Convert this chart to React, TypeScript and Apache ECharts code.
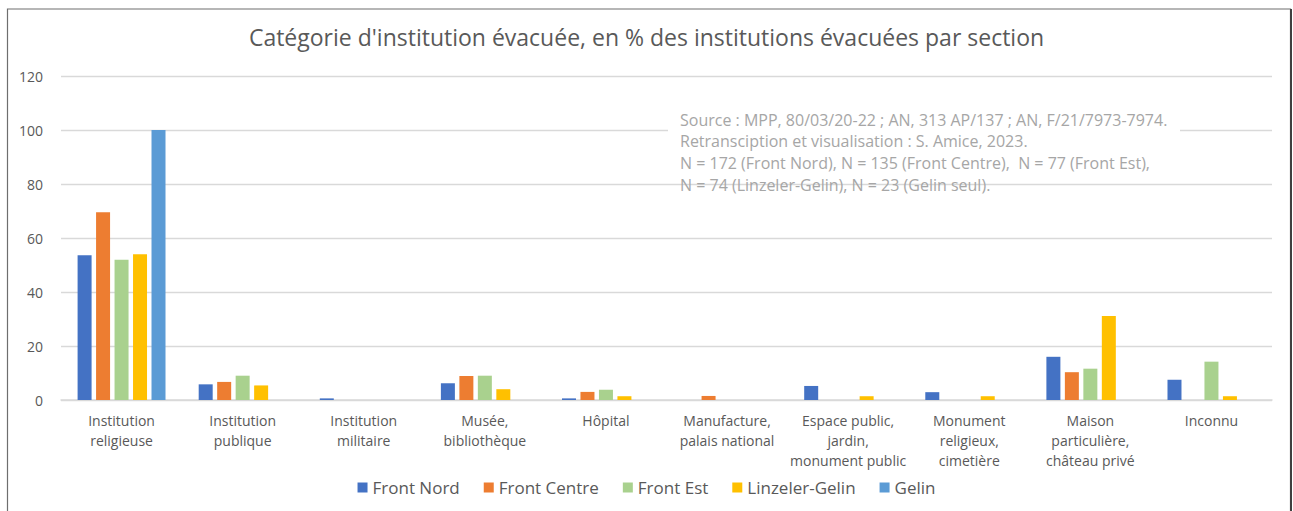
import React, { useEffect, useRef } from "react";
import * as echarts from "echarts";

const categories = [
  "Institution\nreligieuse",
  "Institution\npublique",
  "Institution\nmilitaire",
  "Musée,\nbibliothèque",
  "Hôpital",
  "Manufacture,\npalais national",
  "Espace public,\njardin,\nmonument public",
  "Monument\nreligieux,\ncimetière",
  "Maison\nparticulière,\nchâteau privé",
  "Inconnu",
];

const frontNord = [53.6, 5.8, 0.6, 6.2, 0.6, 0, 5.2, 2.9, 16.0, 7.5];
const frontCentre = [69.5, 6.7, 0, 8.9, 3.0, 1.5, 0, 0, 10.3, 0];
const frontEst = [51.9, 9.0, 0, 9.0, 3.8, 0, 0, 0, 11.6, 14.2];
const linzelerGelin = [54.0, 5.4, 0, 4.0, 1.4, 0, 1.4, 1.4, 31.1, 1.4];
const gelin = [100, 0, 0, 0, 0, 0, 0, 0, 0, 0];

const seriesNames = ["Front Nord", "Front Centre", "Front Est", "Linzeler-Gelin", "Gelin"];
const seriesColors = ["#4472C4", "#ED7D31", "#A9D18E", "#FFC000", "#5B9BD5"];
const seriesData = [frontNord, frontCentre, frontEst, linzelerGelin, gelin];

const yTicks = { min: 0, max: 120, interval: 20 };

const titleText = "Catégorie d'institution évacuée, en % des institutions évacuées par section";
const noteLines = [
  "Source : MPP, 80/03/20-22 ; AN, 313 AP/137 ; AN, F/21/7973-7974.",
  "Retransciption et visualisation : S. Amice, 2023.",
  "N = 172 (Front Nord), N = 135 (Front Centre),  N = 77 (Front Est),",
  "N = 74 (Linzeler-Gelin), N = 23 (Gelin seul).",
];

const FONT = "'Open Sans', Lato, sans-serif";

export default function App() {
  const ref = useRef<HTMLDivElement>(null);
  useEffect(() => {
    if (!ref.current) return;
    const chart = echarts.init(ref.current, undefined, { renderer: "svg" });
    chart.setOption({
      animation: false,
      backgroundColor: "#fff",
      textStyle: { fontFamily: FONT },
      title: {
        text: titleText,
        left: "center",
        top: 20,
        textStyle: { fontFamily: FONT, fontSize: 23, fontWeight: "normal", color: "#595959" },
      },
      grid: { left: 61, right: 21, top: 76, bottom: 111, containLabel: false },
      legend: {
        data: seriesNames,
        left: "center",
        top: 474,
        itemWidth: 10,
        itemHeight: 10,
        itemGap: 24,
        icon: "rect",
        textStyle: { fontFamily: FONT, fontSize: 17, color: "#595959" },
      },
      xAxis: {
        type: "category",
        data: categories,
        axisLine: { show: true, lineStyle: { color: "#D9D9D9", width: 1.5 } },
        axisTick: { show: false },
        axisLabel: {
          interval: 0,
          margin: 10,
          fontFamily: FONT,
          fontSize: 14,
          lineHeight: 20,
          color: "#595959",
        },
      },
      yAxis: {
        type: "value",
        min: yTicks.min,
        max: yTicks.max,
        interval: yTicks.interval,
        axisLine: { show: false },
        axisTick: { show: false },
        axisLabel: { fontFamily: FONT, fontSize: 14, color: "#595959", margin: 18 },
        splitLine: { lineStyle: { color: "#D9D9D9", width: 1.3 } },
      },
      series: seriesNames.map((name, i) => ({
        name,
        type: "bar",
        data: seriesData[i],
        barWidth: 14,
        barGap: "32%",
        itemStyle: { color: seriesColors[i] },
      })),
      graphic: [
        {
          type: "rect",
          shape: { x: 668, y: 108, width: 512, height: 66 },
          style: { fill: "#fff" },
          z: 10,
        },
        {
          type: "text",
          left: 680,
          top: 109,
          z: 11,
          style: {
            text: noteLines.join("\n"),
            fontFamily: FONT,
            fontSize: 16,
            lineHeight: 21.6,
            fill: "#A6A6A6",
          },
        },
        {
          type: "rect",
          shape: { x: 7.5, y: 9, width: 1283, height: 520 },
          style: { fill: "none", stroke: "#6E6E6E", lineWidth: 1.2 },
          z: 20,
        },
        {
          type: "line",
          shape: { x1: 1291, y1: 9, x2: 1291, y2: 511 },
          style: { stroke: "#404040", lineWidth: 2 },
          z: 21,
        },
      ],
    });
    return () => chart.dispose();
  }, []);
  return (
    <div
      ref={ref}
      style={{ position: "fixed", left: 0, top: 0, width: 1293, height: 511, background: "#fff" }}
    />
  );
}
